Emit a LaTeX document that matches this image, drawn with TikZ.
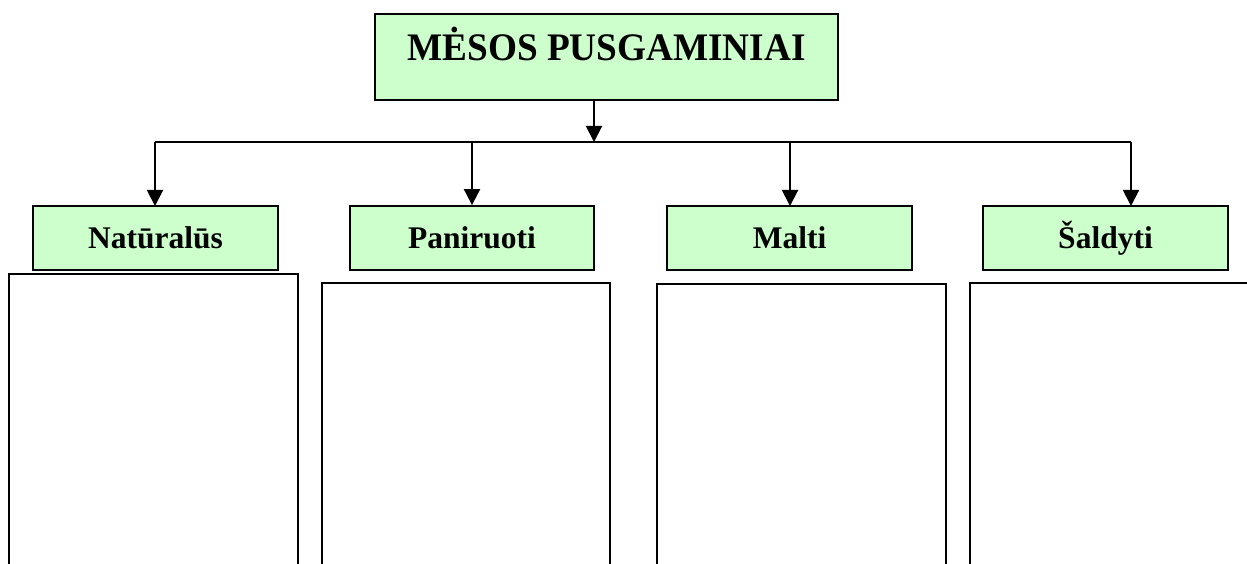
\documentclass[tikz,border=0pt]{standalone}
\usepackage{fontspec}
\setmainfont{Liberation Serif}
\usetikzlibrary{arrows.meta}
\definecolor{boxgreen}{HTML}{CCFFCC}
\tikzset{
  greenbox/.style={draw=black, line width=1.8pt, fill=boxgreen, rectangle, inner sep=0pt},
  conn/.style={draw=black, line width=2pt},
  arr/.style={conn, -{Triangle[width=16pt,length=16pt]}},
  openbox/.style={draw=black, line width=1.8pt},
  subtext/.style={font=\fontsize{31.5}{31.5}\selectfont\bfseries}
}
\begin{document}
\begin{tikzpicture}[x=1pt,y=-1pt]
\useasboundingbox (0,0) rectangle (1247,564);
% title
\node[greenbox, minimum width=463pt, minimum height=86pt] (top) at (606.5,57) {};
\node[font=\fontsize{39}{39}\selectfont\bfseries, inner sep=0pt, anchor=base, xscale=0.955] (toptext) at (606.5,61) {MĖSOS PUSGAMINIAI};
% sub boxes
\node[greenbox, minimum width=245pt, minimum height=64pt, subtext] (n1) at (155.5,238) {Natūralūs};
\node[greenbox, minimum width=244pt, minimum height=64pt, subtext] (n2) at (472,238) {Paniruoti};
\node[greenbox, minimum width=245pt, minimum height=64pt, subtext] (n3) at (789.5,238) {Malti};
\node[greenbox, minimum width=245pt, minimum height=64pt, subtext] (n4) at (1105.5,238) {Šaldyti};
% connectors
\coordinate (hub) at (594,142);
\coordinate (tstart) at (594,100);
\coordinate (left) at (155,142);
\coordinate (right) at (1131,142);
\coordinate (n1in) at (155,206);
\coordinate (n3top) at (790,142);
\coordinate (n3in) at (790,206);
\coordinate (n4in) at (1131,206);
\draw[arr] (tstart) -- (hub);
\draw[conn] (left) -- (right);
\draw[arr] (left) -- (n1in);
\draw[arr] (n2.north |- hub) -- (n2.north);
\draw[arr] (n3top) -- (n3in);
\draw[arr] (right) -- (n4in);
% open boxes below
\draw[openbox] (9,570) -- (9,274) -- (298,274) -- (298,570);
\draw[openbox] (322,570) -- (322,283) -- (610,283) -- (610,570);
\draw[openbox] (657,570) -- (657,284) -- (946,284) -- (946,570);
\draw[openbox] (970,570) -- (970,283) -- (1252,283);
\end{tikzpicture}
\end{document}
